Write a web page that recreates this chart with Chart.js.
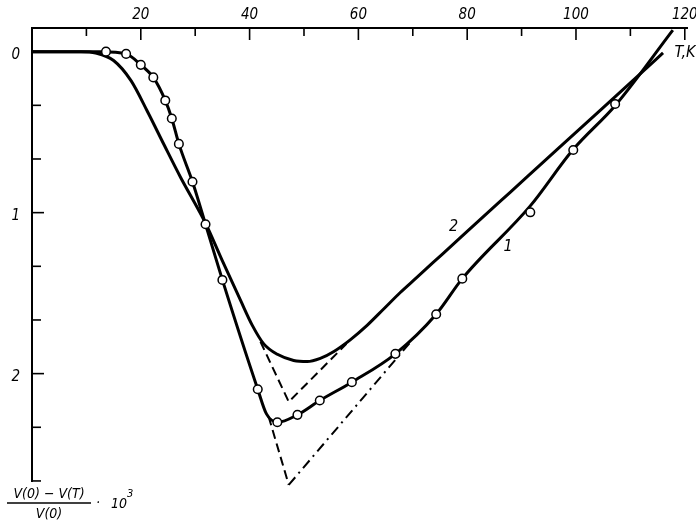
<!DOCTYPE html>
<html>
<head>
<meta charset="utf-8">
<script src="https://cdn.jsdelivr.net/npm/chart.js@4/dist/chart.umd.min.js"></script>
<style>
html,body{margin:0;padding:0;background:#fff;}
#wrap{width:696px;height:528px;position:relative;}
</style>
</head>
<body>
<div id="wrap"><canvas id="c" width="696" height="528"></canvas></div>
<script>
// ---- data (T in K, y = (V(0)-V(T))/V(0) * 10^3) ----
const circlesT = [13.6, 17.3, 20.0, 22.3, 24.5, 25.7, 27.0, 29.5, 31.9, 35.0, 41.5, 45.1, 48.8, 52.9, 58.8, 66.8, 74.3, 79.1, 91.6, 99.5, 107.2];
const circlesY = [0.0, 0.014, 0.082, 0.160, 0.303, 0.415, 0.573, 0.808, 1.072, 1.418, 2.097, 2.302, 2.256, 2.167, 2.053, 1.877, 1.631, 1.410, 0.998, 0.611, 0.325];

const curve1T = [0, 12.7, 17.3, 20.0, 22.3, 24.5, 25.7, 27.0, 29.5, 31.9, 35.0, 41.5, 43.1, 45.1, 48.8, 52.9, 58.8, 66.8, 74.3, 79.1, 91.6, 99.4, 107.3, 117.8];
const curve1Y = [0, 0, 0.014, 0.082, 0.160, 0.303, 0.415, 0.573, 0.808, 1.072, 1.418, 2.097, 2.250, 2.302, 2.256, 2.167, 2.053, 1.877, 1.631, 1.410, 0.958, 0.611, 0.331, -0.134];

const curve2T = [0, 9.0, 11.7, 15.0, 18.2, 21.2, 24.3, 27.3, 30.4, 31.9, 35.0, 38.3, 40.5, 42.6, 45.1, 48.1, 50.6, 53.0, 55.5, 58.5, 61.6, 64.6, 67.7, 70.8, 73.8, 76.9, 79.9, 86.1, 91.0, 96.5, 104.4, 111.7, 116.0];
const curve2Y = [0, 0, 0.008, 0.055, 0.180, 0.370, 0.580, 0.780, 0.970, 1.066, 1.300, 1.542, 1.700, 1.815, 1.880, 1.918, 1.925, 1.905, 1.862, 1.790, 1.700, 1.600, 1.496, 1.401, 1.308, 1.213, 1.120, 0.929, 0.778, 0.609, 0.366, 0.141, 0.008];

const ext2T = [42.0, 47.2, 57.8];
const ext2Y = [1.802, 2.175, 1.815];
const ext1LeftT = [43.5, 47.2];
const ext1LeftY = [2.267, 2.691];
const ext1RightT = [47.2, 69.5];
const ext1RightY = [2.691, 1.807];

const xTicks = [10, 20, 30, 40, 50, 60, 70, 80, 90, 100, 110, 120];
const xLabels = ['', '20', '', '40', '', '60', '', '80', '', '100', '', '120'];
const yTicks = [0, 1/3, 2/3, 1, 4/3, 5/3, 2, 7/3, 8/3];
const yLabels = ['0', '', '', '1', '', '', '2', '', ''];

const pts = (xs, ys) => xs.map((x, i) => ({x: x, y: ys[i]}));
const FONT = '"DejaVu Sans Condensed", "Liberation Sans Narrow", sans-serif';

const decor = {
  id: 'decor',
  afterDraw(chart) {
    const ctx = chart.ctx;
    const xs = chart.scales.x, ys = chart.scales.y;
    const top = chart.chartArea.top, left = chart.chartArea.left;
    ctx.save();
    ctx.strokeStyle = '#000';
    ctx.lineWidth = 1.6;
    xTicks.forEach(t => {
      const px = xs.getPixelForValue(t);
      const len = (t % 20 === 0) ? 12 : 8;
      ctx.beginPath(); ctx.moveTo(px, top); ctx.lineTo(px, top + len); ctx.stroke();
    });
    yTicks.forEach((v, i) => {
      const py = ys.getPixelForValue(v);
      const len = (i % 3 === 0) ? 12 : 9;
      ctx.beginPath(); ctx.moveTo(left, py); ctx.lineTo(left + len, py); ctx.stroke();
    });
    ctx.fillStyle = '#000';
    ctx.font = 'italic 16px ' + FONT;
    ctx.textAlign = 'center';
    ctx.textBaseline = 'middle';
    ctx.fillText('T,K', 685, 53);
    ctx.fillText('2', xs.getPixelForValue(77.5), ys.getPixelForValue(1.09));
    ctx.fillText('1', xs.getPixelForValue(87.5), ys.getPixelForValue(1.21));
    // y-axis quantity
    ctx.font = 'italic 14px ' + FONT;
    ctx.fillText('V(0) \u2212 V(T)', 49, 494);
    ctx.fillText('V(0)', 49, 514);
    ctx.lineWidth = 1.3;
    ctx.beginPath(); ctx.moveTo(7, 503); ctx.lineTo(91, 503); ctx.stroke();
    ctx.fillText('\u00b7', 98, 503);
    ctx.textAlign = 'left';
    ctx.fillText('10', 111, 504);
    ctx.font = 'italic 11px ' + FONT;
    ctx.fillText('3', 127, 494);
    ctx.restore();
  }
};

new Chart(document.getElementById('c'), {
  type: 'scatter',
  data: {
    datasets: [
      {data: pts(circlesT, circlesY), showLine: false, pointRadius: 4.3, pointBackgroundColor: '#fff', pointBorderColor: '#000', pointBorderWidth: 1.5, clip: false},
      {data: pts(curve1T, curve1Y), showLine: true, borderColor: '#000', borderWidth: 3, pointRadius: 0, cubicInterpolationMode: 'monotone', tension: 0.4, clip: false},
      {data: pts(curve2T, curve2Y), showLine: true, borderColor: '#000', borderWidth: 3, pointRadius: 0, cubicInterpolationMode: 'monotone', tension: 0.4, clip: false},
      {data: pts(ext2T, ext2Y), showLine: true, borderColor: '#000', borderWidth: 2, borderDash: [9, 5], pointRadius: 0, tension: 0, clip: false},
      {data: pts(ext1LeftT, ext1LeftY), showLine: true, borderColor: '#000', borderWidth: 2, borderDash: [9, 5], pointRadius: 0, tension: 0, clip: false},
      {data: pts(ext1RightT, ext1RightY), showLine: true, borderColor: '#000', borderWidth: 2, borderDash: [10, 5, 2, 5], pointRadius: 0, tension: 0, clip: false}
    ]
  },
  options: {
    responsive: false,
    animation: false,
    devicePixelRatio: 1,
    layout: {padding: {left: 0, top: 0, right: 8.5, bottom: 47}},
    plugins: {legend: {display: false}, tooltip: {enabled: false}},
    scales: {
      x: {
        type: 'linear', position: 'top', min: 0, max: 120.5,
        afterBuildTicks(s) { s.ticks = xTicks.map(v => ({value: v})); },
        afterFit(s) { s.height = 28; s.paddingLeft = 0; s.paddingRight = 0; },
        grid: {display: false, drawTicks: false},
        border: {display: true, color: '#000', width: 2},
        ticks: {
          autoSkip: false, maxRotation: 0, padding: 4, color: '#000',
          font: {family: FONT, size: 15, style: 'italic'},
          callback(v) { const i = xTicks.indexOf(v); return i >= 0 ? xLabels[i] : ''; }
        }
      },
      y: {
        type: 'linear', position: 'left', reverse: true, min: -0.147, max: 2.667,
        afterBuildTicks(s) { s.ticks = yTicks.map(v => ({value: v})); },
        afterFit(s) { s.width = 32; s.paddingTop = 0; s.paddingBottom = 0; },
        grid: {display: false, drawTicks: false},
        border: {display: true, color: '#000', width: 2},
        ticks: {
          autoSkip: false, padding: 12, color: '#000', labelOffset: 3,
          font: {family: FONT, size: 15, style: 'italic'},
          callback(v, i) { return yLabels[i] || ''; }
        }
      }
    }
  },
  plugins: [decor]
});
</script>
</body>
</html>
